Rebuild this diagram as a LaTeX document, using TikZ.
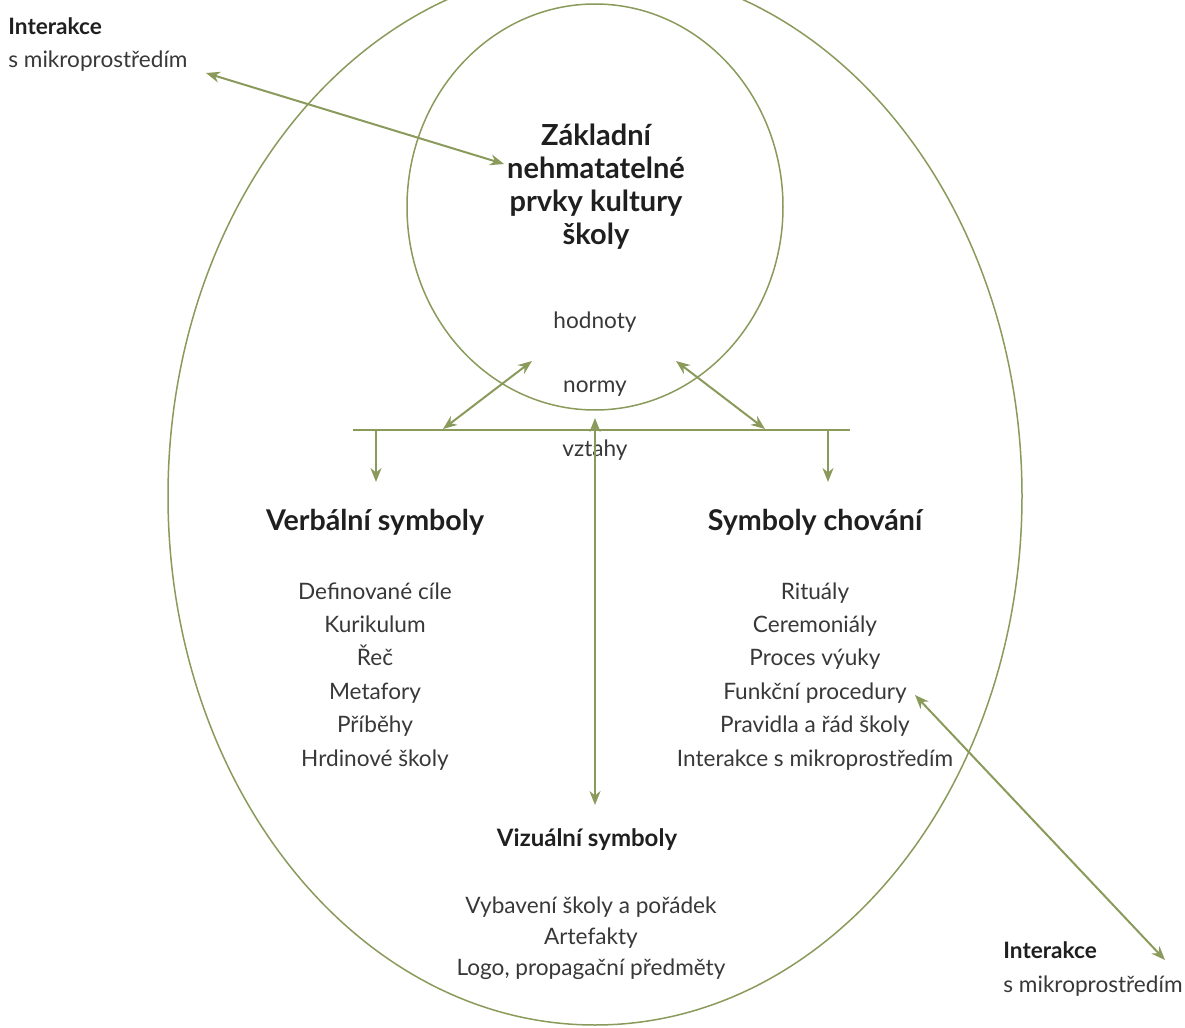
\documentclass[tikz,border=0pt]{standalone}
\usepackage{fontspec}
\setmainfont{Lato}
\usetikzlibrary{arrows.meta}
\definecolor{leaf}{HTML}{8A9A5B}
\definecolor{ink}{HTML}{383838}
\begin{document}
\begin{tikzpicture}[x=0.5pt,y=-0.5pt,>={Stealth[length=7pt,width=5.5pt]},every node/.style={text=ink,inner sep=0pt},hd/.style={font=\bfseries\fontsize{14.3}{16.5}\selectfont,text=black!88,align=center},hs/.style={font=\bfseries\fontsize{12}{14}\selectfont,text=black!88},it/.style={font=\fontsize{11.3}{16.7}\selectfont,align=center},ln/.style={leaf,line width=1pt}]
\useasboundingbox (0,0) rectangle (1185,1028);
\begin{scope}
\clip (0,0) rectangle (1185,1028);
\draw[leaf,line width=0.75pt] (595,496) ellipse [x radius=427,y radius=529];
\end{scope}
\draw[leaf,line width=0.75pt] (595,207) ellipse [x radius=188,y radius=203];
% texts (base = last line)
\node[hd,font=\bfseries\fontsize{14.5}{16.5}\selectfont,anchor=base] (core) at (596,244) {Základní\\nehmatatelné\\prvky kultury\\školy};
\node[it,anchor=base] (hod) at (595,328) {hodnoty};
\node[it,anchor=base] (nor) at (595,392) {normy};
\node[it,anchor=base] (vzt) at (595,456) {vztahy};
\node[hd,anchor=base] (verb) at (375,530) {Verbální symboly};
\node[hd,anchor=base] (beh) at (815,530) {Symboly chování};
\node[it,anchor=base] (verbl) at (375,766) {Definované cíle\\Kurikulum\\Řeč\\Metafory\\Příběhy\\Hrdinové školy};
\node[it,anchor=base] (behl) at (815,766) {Rituály\\Ceremoniály\\Proces výuky\\Funkční procedury\\Pravidla a řád školy\\Interakce s mikroprostředím};
\node[hs,anchor=base] (viz) at (587,846) {Vizuální symboly};
\node[it,font=\fontsize{11.3}{15.5}\selectfont,anchor=base] (vizl) at (591,975) {Vybavení školy a pořádek\\Artefakty\\Logo, propagační předměty};
\node[it,align=left,anchor=base west] (envA) at (8,68) {\textbf{\color{black!88}Interakce}\\s mikroprostředím};
\node[it,align=left,anchor=base west] (envB) at (1003,992) {\textbf{\color{black!88}Interakce}\\s mikroprostředím};
% connectors
\coordinate (a1) at (206,73);\coordinate (a2) at (504,164);
\coordinate (b1) at (915,695);\coordinate (b2) at (1165,960);
\coordinate (barL) at (353,430);\coordinate (barR) at (850,430);
\coordinate (dl) at (376,430);\coordinate (dr) at (828,430);
\coordinate (l1) at (443,429);\coordinate (l2) at (532,361);
\coordinate (r1) at (676,361);\coordinate (r2) at (765,429);
\coordinate (v1) at (595,418);\coordinate (v2) at (595,805);
\draw[ln] (barL)--(barR);
\draw[ln,->] (dl)--++(0,52);\draw[ln,->] (dr)--++(0,52);
\draw[ln,<->] (l1)--(l2);\draw[ln,<->] (r1)--(r2);
\draw[ln,<->] (v1)--(v2);
\draw[ln,<->] (a1)--(a2);\draw[ln,<->] (b1)--(b2);
\end{tikzpicture}
\end{document}
